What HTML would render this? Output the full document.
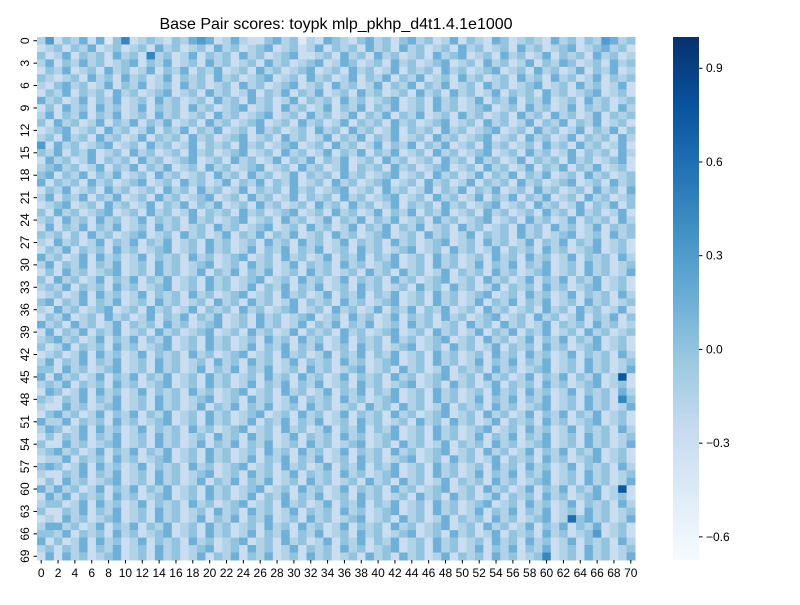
<!DOCTYPE html>
<html><head><meta charset="utf-8">
<style>
body{margin:0;background:#fff;width:800px;height:600px;overflow:hidden;font-family:"Liberation Sans",sans-serif;}
</style></head>
<body>
<svg id="chart" width="800" height="600" xmlns="http://www.w3.org/2000/svg">
<text x="336" y="29" font-size="16" text-anchor="middle" font-family="Liberation Sans, sans-serif">Base Pair scores: toypk mlp_pkhp_d4t1.4.1e1000</text>
<g id="cells"></g>
<g id="xticks"></g>
<g id="yticks"></g>
<defs><linearGradient id="cbg" x1="0" y1="1" x2="0" y2="0"></linearGradient></defs>
<rect x="673" y="37" width="26" height="523" fill="url(#cbg)"/>
<g id="cbticks"></g>
</svg>
<script>
// Each char encodes a level 0..A; value = levelValues[level]
const levelValues=[-0.6,-0.45,-0.3,-0.15,0.0,0.15,0.3,0.45,0.6,0.75,0.9];
const rows=[
"36243525147234324356523532245341325432453424534235243254234325342436534",
"23424352342342534234253423452342352434253425342342534234253423452345342",
"42352434253427342352434253423452234253425342342534523425342352434253423",
"35243534234524352342534234253423452354234253423452342534235243542342534",
"24352342534235243524352342534234523425342352434253423452342534235243523",
"43234253425342352434253423452342534235243524352342534234253425342352434",
"32453423524352342534234253423452342534235243524352342534234523425342352",
"24352434253423452342534235243524352342534234253425342352434253423452342",
"53423524352342534234253425342352434253423452342534235243524352342534234",
"24253425342352434253423452342534235243524352342534234523425342352434253",
"35243524352342534234253423452342534235243524352342534234253425342352434",
"42534235243524352342534234523425342352434253423452342534235243524352342",
"23452342534235243524352342534234253425342352434253423452342534235243524",
"34253425342352434253423452342534235243524352342534234523425342352434253",
"62534234523425342352434253423452342534235243524352342534234253425342352",
"43524352342534234253423452342534235243524352342534234523425342352434253",
"25342352434253423452342534235243524352342534234253425342352434253423452",
"34534235243524352342534234523425342352434253423452342534235243524352342",
"45243524352342534234253425342352434253423452342534235243524352342534234",
"52434253423452342534235243524352342534234523425342352434253423452342534",
"24352342534234253425342352434253423452342534235243524352342534234253425",
"35243524352342534234523425342352434253423452342534235243524352342534234",
"23452342534235243524352342534234253425342352434253423452342534235243524",
"42534234523425342352434253423452342534235243524352342534234253425342352",
"34253425342352434253423452342534235243524352342534234523425342352434253",
"25243524352342534234253423452342534235243524352342534234253425342352434",
"43424253423452342534235243524352342534234523425342352434253423452342534",
"32534235243524352342534234253425342352434253423452342534235243524352342",
"24352434253423452342534235243524352342534234523425342352434253423452342",
"53423525342352434253423452342534235243524352342534234253425342352434253",
"35243524352342534234523425342352434253423452342534235243524352342534234",
"24253423452342534235243524352342534234253425342352434253423452342534235",
"42534235243524352342534234523425342352434253423452342534235243524352342",
"34352434253423452342534235243524352342534234253425342352434253423452342",
"23423525342352434253423452342534235243524352342534234523425342352434253",
"45243524352342534234253425342352434253423452342534235243524352342534234",
"32534234523425342352434253423452342534235243524352342534234253425342352",
"24352342534235243524352342534234523425342352434253423452342534235243524",
"53425342352434253423452342534235243524352342534234253425342352434253423",
"25243524352342534234523425342352434253423452342534235243524352342534234",
"34534235243524352342534234253425342352434253423452342534235243524352342",
"42352434253423452342534235243524352342534234523425342352434253423452342",
"23423525342352434253423452342534235243524352342534234253425342352434253",
"35243524352342534234253425342352434253423452342534235243524352342534234",
"44253423452342534235243524352342534234523425342352434253423452342534235",
"52534235243524352342534234253425342352434253423452342534235243524352392",
"34352434253423452342534235243524352342534234523425342352434253423452342",
"25423525342352434253423452342534235243524352342534234253425342352434253",
"43243524352342534234523425342352434253423452342534235243524352342534274",
"32253423452342534235243524352342534234253425342352434253423452342534235",
"24534235243524352342534234523425342352434253423452342534235243524352342",
"53352434253423452342534235243524352342534234253425342352434253423452342",
"35423525342352434253423452342534235243524352342534234523425342352434253",
"24243524352342534234253425342352434253423452342534235243524352342534234",
"42253423452342534235243524352342534234523425342352434253423452342534235",
"34534235243524352342534234253425342352434253423452342534235243524352342",
"23352434253423452342534235243524352342534234523425342352434253423452342",
"45423525342352434253423452342534235243524352342534234253425342352434253",
"32243524352342534234523425342352434253423452342534235243524352342534234",
"24253423452342534235243524352342534234253425342352434253423452342534235",
"53534235243524352342534234523425342352434253423452342534235243524352392",
"25352434253423452342534235243524352342534234253425342352434253423452342",
"34423525342352434253423452342534235243524352342534234523425342352434253",
"42243524352342534234253425342352434253423452342534235243524352342534234",
"23253423452342534235243524352342534234523425342352434253423452384534235",
"35534235243524352342534234253425342352434253423452342534235243524352342",
"44352434253423452342534235243524352342534234523425342352434253423462342",
"52423525342352434253423452342534235243524352342534234253425342352434253",
"34243524352342534234523425342352434253423452342534235243524352342534234",
"25253423452342534235243524352342534234253425342352434253423472342534235"
];
const vmin=-0.674,vmax=1.0;
const cbTicks=[0.9,0.6,0.3,0.0,-0.3,-0.6];
const stops=["#f7fbff","#deebf7","#c6dbef","#9ecae1","#6baed6","#4292c6","#2171b5","#08519c","#08306b"];
function hex(h){return [1,3,5].map(i=>parseInt(h.substr(i,2),16));}
function color(v){let t=(v-vmin)/(vmax-vmin);t=Math.max(0,Math.min(1,t));const p=t*8,i=Math.min(7,Math.floor(p)),f=p-i;const a=hex(stops[i]),b=hex(stops[i+1]);return `rgb(${a.map((c,k)=>Math.round(c+(b[k]-c)*f)).join(",")})`;}
const X0=37,X1=635,Y0=37,Y1=560,NC=71,NR=70;
const cw=(X1-X0)/NC,ch=(Y1-Y0)/NR;
const xS=j=>X0+j*cw, yS=i=>Y0+i*ch, cS=v=>Y1-(v-vmin)/(vmax-vmin)*(Y1-Y0);
const NS="http://www.w3.org/2000/svg";
const cells=document.getElementById("cells");
rows.forEach((r,i)=>{for(let j=0;j<NC;j++){const lv=parseInt(r[j]||"3",11);const v=levelValues[lv];const e=document.createElementNS(NS,"rect");


e.setAttribute("x",xS(j));e.setAttribute("y",yS(i));e.setAttribute("width",cw+0.5);e.setAttribute("height",ch+0.5);e.setAttribute("fill",color(v));cells.appendChild(e);}});
const xt=document.getElementById("xticks");
for(let l=0;l<=70;l+=2){const x=xS(l)+cw/2;const t=document.createElementNS(NS,"text");


t.setAttribute("x",x);t.setAttribute("y",Y1+17);t.setAttribute("font-size","12");t.setAttribute("text-anchor","middle");t.textContent=l;xt.appendChild(t);
const ln=document.createElementNS(NS,"line");


ln.setAttribute("x1",x);ln.setAttribute("x2",x);ln.setAttribute("y1",Y1);ln.setAttribute("y2",Y1+3.5);ln.setAttribute("stroke","#000");xt.appendChild(ln);}
const yt=document.getElementById("yticks");
for(let l=0;l<=69;l+=3){const y=yS(l)+ch/2;const t=document.createElementNS(NS,"text");


t.setAttribute("transform",`translate(${X0-8},${y}) rotate(-90)`);t.setAttribute("font-size","12");t.setAttribute("text-anchor","middle");t.textContent=l;yt.appendChild(t);
const ln=document.createElementNS(NS,"line");


ln.setAttribute("x1",X0-3.5);ln.setAttribute("x2",X0);ln.setAttribute("y1",y);ln.setAttribute("y2",y);ln.setAttribute("stroke","#000");yt.appendChild(ln);}
const g=document.getElementById("cbg");
stops.forEach((s,i)=>{const st=document.createElementNS(NS,"stop");st.setAttribute("offset",i/8);st.setAttribute("stop-color",s);g.appendChild(st);});
const cb=document.getElementById("cbticks");
cbTicks.forEach(v=>{const y=cS(v);const ln=document.createElementNS(NS,"line");


ln.setAttribute("x1",699);ln.setAttribute("x2",702.5);ln.setAttribute("y1",y);ln.setAttribute("y2",y);ln.setAttribute("stroke","#000");cb.appendChild(ln);
const t=document.createElementNS(NS,"text");


t.setAttribute("x",706);t.setAttribute("y",y+4);t.setAttribute("font-size","12");t.textContent=(v<0?"\u2212":"")+Math.abs(v).toFixed(1);cb.appendChild(t);});
</script>
</body></html>
